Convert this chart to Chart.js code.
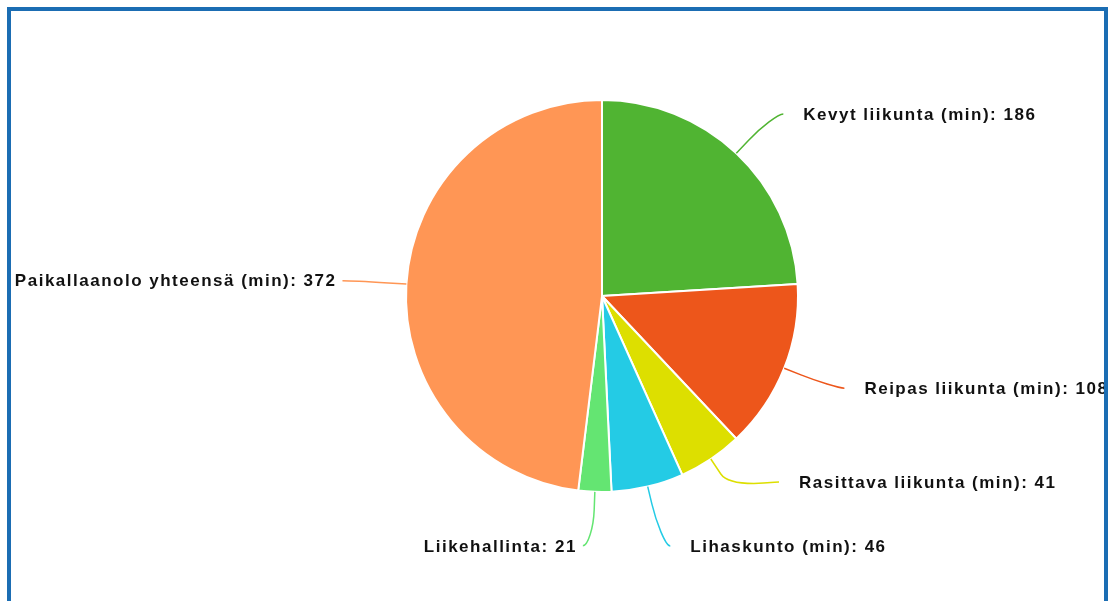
<!DOCTYPE html>
<html lang="fi">
<head>
<meta charset="utf-8">
<title>Liikunta</title>
<script src="https://cdn.jsdelivr.net/npm/chart.js@4.4.1/dist/chart.umd.min.js"></script>
<style>
    html, body { margin: 0; padding: 0; background: #fff; overflow: hidden; }
    #wrap { position: relative; width: 1120px; height: 601px; }
    #frame {
        position: absolute; left: 7px; top: 7px; width: 1101px; height: 640px;
        box-sizing: border-box; border: 4px solid #1b6db3; pointer-events: none;
    }
</style>
</head>
<body>
<div id="wrap">
    <canvas id="activityChart" width="1120" height="601"></canvas>
    <div id="frame"></div>
</div>
<script>
var categories = [
    'Kevyt liikunta (min)',
    'Reipas liikunta (min)',
    'Rasittava liikunta (min)',
    'Lihaskunto (min)',
    'Liikehallinta',
    'Paikallaanolo yhteensä (min)'
];
var minutes = [186, 108, 41, 46, 21, 372];
var sliceColors = ['#50b432', '#ed561b', '#dddf00', '#24cbe5', '#64e572', '#ff9655'];

// push overlapping labels on one side apart, keeping them inside the label ring
function spreadLabels(group, slot) {
    if (!group.length) return;
    group.sort(function(a, b) { return a.natural - b.natural; });
    var lo = group[0].cy - group[0].R;
    var hi = group[0].cy + group[0].R;

    function place(c) {
        var n = c.items.length;
        var mean = c.items.reduce(function(s, it) { return s + it.natural; }, 0) / n;
        var first = mean - (n - 1) * slot / 2;
        first = Math.max(lo, Math.min(first, hi - (n - 1) * slot));
        c.top = first;
        c.bottom = first + (n - 1) * slot;
    }

    var clusters = group.map(function(it) { return { items: [it] }; });
    clusters.forEach(place);
    var merged = true;
    while (merged) {
        merged = false;
        for (var i = 0; i < clusters.length - 1; i++) {
            if (clusters[i + 1].top - clusters[i].bottom < slot) {
                clusters[i].items = clusters[i].items.concat(clusters[i + 1].items);
                clusters.splice(i + 1, 1);
                place(clusters[i]);
                merged = true;
                break;
            }
        }
    }
    clusters.forEach(function(c) {
        c.items.forEach(function(it, k) { it.y = c.top + k * slot; });
    });
}

var pieLabels = {
    id: 'pieLabels',
    afterDatasetsDraw: function(chart, args, opts) {
        var ctx = chart.ctx;
        var arcs = chart.getDatasetMeta(0).data;
        var items = arcs.map(function(arc, i) {
            var p = arc.getProps(['x', 'y', 'startAngle', 'endAngle', 'outerRadius'], true);
            var mid = (p.startAngle + p.endAngle) / 2;
            var R = p.outerRadius + opts.distance;
            return {
                index: i, cx: p.x, cy: p.y, r: p.outerRadius, R: R,
                cos: Math.cos(mid), sin: Math.sin(mid),
                left: Math.cos(mid) < 0,
                natural: p.y + R * Math.sin(mid)
            };
        });

        spreadLabels(items.filter(function(it) { return it.left; }), opts.slot);
        spreadLabels(items.filter(function(it) { return !it.left; }), opts.slot);

        ctx.save();
        ctx.font = 'bold 17px "Liberation Sans", Arial, sans-serif';
        ctx.letterSpacing = '1.5px';
        ctx.textBaseline = 'middle';
        items.forEach(function(it) {
            var sign = it.left ? -1 : 1;
            // labels pinned to the top/bottom of the ring take x from their natural spot
            var yForX = Math.abs(it.y - it.cy) >= it.R - 0.5 ? it.natural : it.y;
            var dy = Math.max(-it.R, Math.min(it.R, yForX - it.cy));
            var x = it.cx + sign * (Math.sqrt(it.R * it.R - dy * dy) + opts.padding);

            var tx = it.cx + it.r * it.cos, ty = it.cy + it.r * it.sin;
            var bx = it.cx + (it.r + opts.bend) * it.cos, by = it.cy + (it.r + opts.bend) * it.sin;
            ctx.beginPath();
            ctx.moveTo(x, it.y);
            ctx.bezierCurveTo(x - sign * 5, it.y, 2 * bx - tx, 2 * by - ty, bx, by);
            ctx.lineTo(tx, ty);
            ctx.strokeStyle = sliceColors[it.index];
            ctx.lineWidth = 1.5;
            ctx.stroke();

            ctx.fillStyle = '#111111';
            ctx.textAlign = it.left ? 'right' : 'left';
            var text = categories[it.index] + ': ' + minutes[it.index];
            ctx.fillText(text, x + (it.left ? -opts.gapLeft : opts.gapRight), it.y + 1);
        });
        ctx.restore();
    }
};

var ctx = document.getElementById('activityChart').getContext('2d');
var activityChart = new Chart(ctx, {
    type: 'pie',
    data: {
        labels: categories,
        datasets: [{
            data: minutes,
            backgroundColor: sliceColors,
            borderColor: '#ffffff',
            borderWidth: 2
        }]
    },
    options: {
        responsive: false,
        animation: false,
        layout: {
            padding: { left: 405, right: 321, top: 99, bottom: 108 }
        },
        plugins: {
            legend: { display: false },
            tooltip: { enabled: false },
            pieLabels: { distance: 54, slot: 64, padding: 10, bend: 18, gapRight: 20, gapLeft: 6 }
        }
    },
    plugins: [pieLabels]
});
</script>
</body>
</html>
